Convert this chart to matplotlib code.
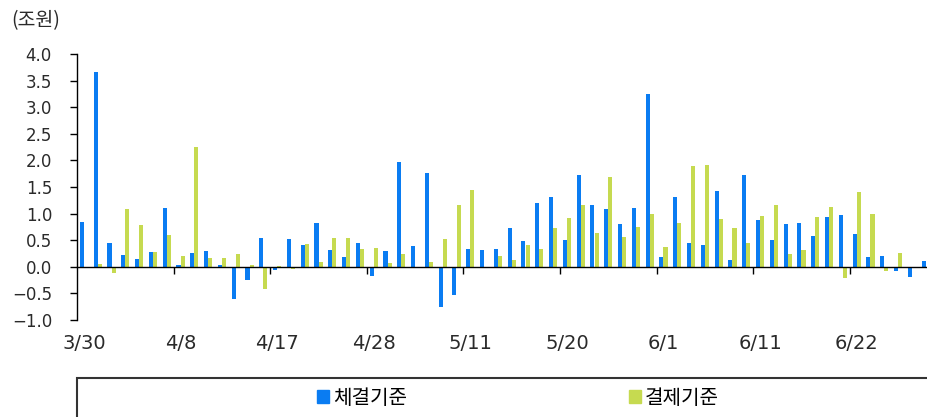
import numpy as np
import matplotlib
matplotlib.use('Agg')
import matplotlib.pyplot as plt
import matplotlib.transforms as mtransforms
from matplotlib.patches import Patch, Rectangle

plt.rcParams['font.family'] = ['DejaVu Sans', 'Noto Sans CJK KR']

# 일별 순매수 (조원)
trade_basis = [0.84, 3.66, 0.44, 0.22, 0.14, 0.28, 1.11, 0.04, 0.26, 0.29,
               0.04, -0.60, -0.25, 0.54, -0.06, 0.53, 0.41, 0.83, 0.31, 0.18,
               0.44, -0.17, 0.29, 1.97, 0.40, 1.76, -0.76, -0.53, 0.33, 0.32,
               0.33, 0.73, 0.48, 1.19, 1.32, 0.50, 1.73, 1.16, 1.08, 0.81,
               1.11, 3.25, 0.19, 1.32, 0.44, 0.41, 1.43, 0.13, 1.72, 0.88,
               0.51, 0.81, 0.83, 0.57, 0.93, 0.975, 0.62, 0.19, 0.21, -0.08,
               -0.19, 0.10]
settle_basis = [0.0, 0.06, -0.12, 1.09, 0.79, 0.28, 0.59, 0.21, 2.26, 0.16,
                0.16, 0.24, 0.03, -0.41, 0.02, -0.04, 0.43, 0.09, 0.54, 0.55,
                0.33, 0.36, 0.08, 0.24, 0.0, 0.09, 0.53, 1.17, 1.45, 0.0,
                0.21, 0.12, 0.41, 0.33, 0.72, 0.91, 1.17, 0.63, 1.68, 0.56,
                0.74, 0.99, 0.375, 0.82, 1.90, 1.92, 0.89, 0.725, 0.44, 0.96,
                1.17, 0.24, 0.31, 0.94, 1.125, -0.21, 1.41, 0.99, -0.08, 0.26,
                -0.02, 0.0]
date_labels = ['3/30', '4/8', '4/17', '4/28', '5/11', '5/20', '6/1', '6/11', '6/22']
label_step = 7

blue = '#0a7cf2'
green = '#c6da50'
txt = '#2a2a2a'

fig = plt.figure(figsize=(9.28, 4.17), dpi=100)
ax = fig.add_axes([77 / 928, 1 - 320 / 417, 1 - 77 / 928, (320 - 54) / 417])

x = np.arange(len(trade_basis))
w = 0.29
ax.bar(x - w / 2, trade_basis, width=w, color=blue)
ax.bar(x + w / 2, settle_basis, width=w, color=green)

ax.set_xlim(-0.5, -0.5 + (928 - 77) / 13.8)
ax.set_ylim(-1.0, 4.0)
yt = np.arange(-1.0, 4.01, 0.5)
ax.set_yticks(yt)
ax.set_yticklabels([f'{v:.1f}'.replace('-', '−') for v in yt])
ax.tick_params(axis='y', direction='out', length=5, width=1, pad=13,
               labelsize=12, labelcolor=txt)

ax.spines['top'].set_visible(False)
ax.spines['right'].set_visible(False)
ax.spines['bottom'].set_position(('data', 0))
ax.spines['left'].set_linewidth(1)
ax.spines['bottom'].set_linewidth(1)

ax.set_xticks(np.arange(label_step, len(trade_basis), label_step) - 0.5)
ax.set_xticklabels([])
ax.tick_params(axis='x', direction='out', length=5, width=1)

trans = mtransforms.blended_transform_factory(ax.transData, ax.transAxes)
for i, lab in enumerate(date_labels):
    ax.text(i * label_step, -0.087, lab, transform=trans, ha='center', va='center',
            fontsize=14, color=txt)

fig.text(11 / 928, 1 - 21 / 417, '(조원)', ha='left', va='center', fontsize=14,
         color=txt, family=['Noto Sans CJK KR'])

fig.patches.append(Rectangle((77 / 928, -0.2), 1.0, 0.2 + 1 - 378 / 417,
                             transform=fig.transFigure, fill=False,
                             edgecolor='#333333', linewidth=1.5))

handles = [Patch(color=blue, label='체결기준'), Patch(color=green, label='결제기준')]
fig.legend(handles=handles, loc='center', bbox_to_anchor=(518 / 928, 1 - 398 / 417),
           ncol=2, frameon=False, handlelength=0.6, handleheight=0.6,
           handletextpad=0.2, columnspacing=11.0,
           prop={'family': ['Noto Sans CJK KR'], 'size': 14.5})

fig.savefig('out.png', dpi=100)
